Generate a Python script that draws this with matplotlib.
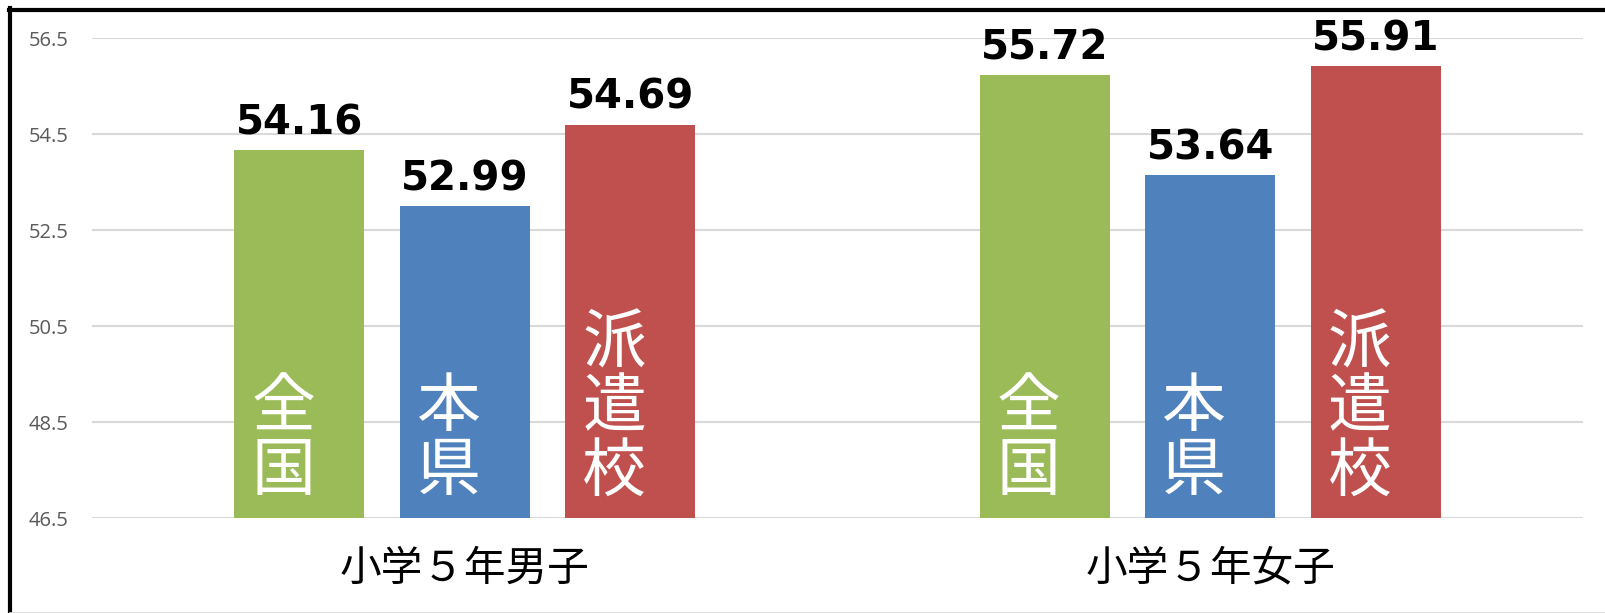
import matplotlib
matplotlib.use("Agg")
import matplotlib.pyplot as plt
from matplotlib.lines import Line2D
import numpy as np

categories = ["小学５年男子", "小学５年女子"]
series_names = ["全国", "本県", "派遣校"]
values = {
    "全国": [54.16, 55.72],
    "本県": [52.99, 53.64],
    "派遣校": [54.69, 55.91],
}
yticks = [46.5, 48.5, 50.5, 52.5, 54.5, 56.5]
colors = {"全国": "#9BBB59", "本県": "#4F81BD", "派遣校": "#C0504D"}

plt.rcParams['font.family'] = ['DejaVu Sans']
CJK = ['Noto Sans CJK JP', 'DejaVu Sans']

W, H = 1606, 613
fig = plt.figure(figsize=(W / 100, H / 100), dpi=100)
ax = fig.add_axes([92 / W, 1 - 518 / H, (1583 - 92) / W, (518 - 38) / H])

x = np.arange(len(categories))
offsets = [-0.222, 0.0, 0.222]
bw = 0.174
base = yticks[0]

for name, off in zip(series_names, offsets):
    vals = values[name]
    xs = x + off
    ax.bar(xs, np.array(vals) - base, bottom=base, width=bw,
           color=colors[name], edgecolor='none', zorder=2)
    for xi, v in zip(xs, vals):
        ax.annotate(f"{v:.2f}", xy=(xi, v), xytext=(0, 7),
                    textcoords='offset pixels', ha='center', va='bottom',
                    fontsize=29, fontweight='bold', color='black', zorder=4)
        chars = list(name)
        for k, ch in enumerate(reversed(chars)):
            ax.annotate(ch, xy=(xi, base), xytext=(-16, 46 + 64 * k),
                        textcoords='offset pixels', ha='center', va='center',
                        fontsize=46, color='white', family=CJK, zorder=4)

ax.set_xlim(-0.5, 1.5)
ax.set_ylim(yticks[0], yticks[-1])
ax.set_yticks(yticks)
ax.set_yticklabels([f"{t:.1f}" for t in yticks], family=['Open Sans', 'DejaVu Sans'],
                   fontsize=14.5, color='#595959')
ax.yaxis.grid(True, color='#D9D9D9', linewidth=1.5, zorder=0)
ax.set_axisbelow(True)
ax.tick_params(axis='y', length=0, pad=17)
ax.set_xticks([])
for s in ax.spines.values():
    s.set_visible(False)

for xi, c in zip(x, categories):
    ax.annotate(c, xy=(xi, 0), xycoords=('data', 'axes fraction'),
                xytext=(0, -51), textcoords='offset pixels',
                ha='center', va='center', fontsize=30, family=CJK, color='black')

# outer frame
fig.add_artist(Line2D([9 / W, 1], [1 - 9.5 / H, 1 - 9.5 / H], transform=fig.transFigure,
                      color='black', linewidth=3))
fig.add_artist(Line2D([10 / W, 10 / W], [0, 1 - 8 / H], transform=fig.transFigure,
                      color='black', linewidth=3))
fig.add_artist(Line2D([10 / W, 1], [0.5 / H, 0.5 / H], transform=fig.transFigure,
                      color='#D9D9D9', linewidth=1.2))

fig.savefig("out.png", dpi=100)
